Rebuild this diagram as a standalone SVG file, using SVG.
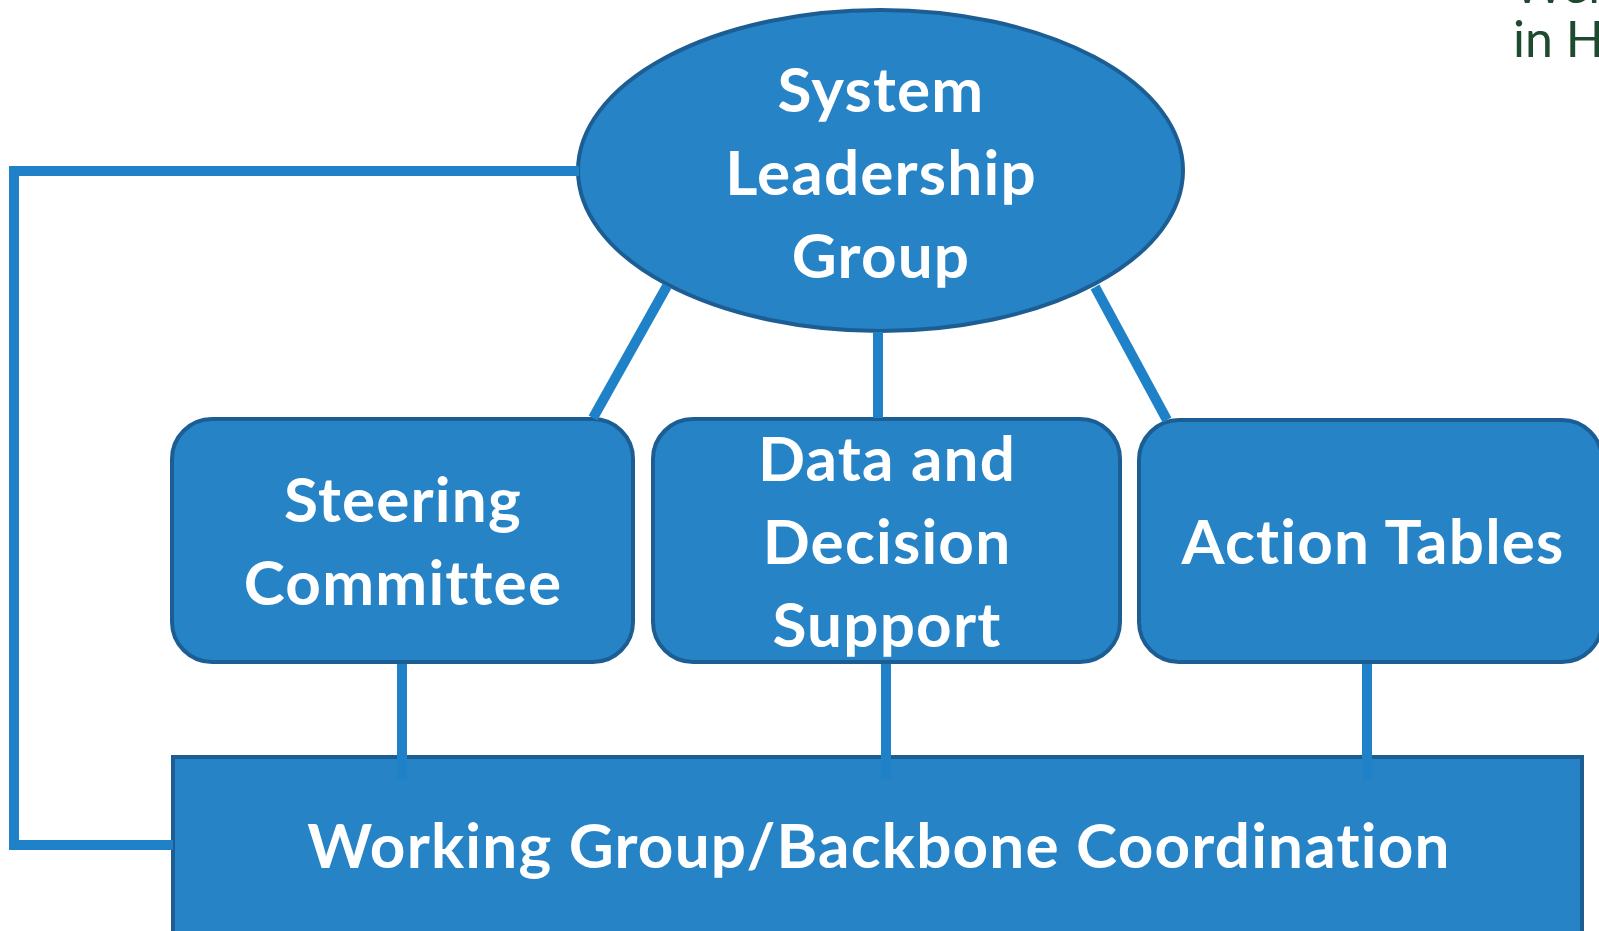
<svg xmlns="http://www.w3.org/2000/svg" width="1599" height="931" viewBox="0 0 1599 931">
  <style>
    .node { fill: #2683C6; stroke: #1C5E94; stroke-width: 4; }
    .lbl { font-family: Lato, "Open Sans", "Liberation Sans", sans-serif; font-weight: 700; font-size: 62px; letter-spacing: 1.2px; font-variant-ligatures: none; fill: #ffffff; text-anchor: middle; }
    .conn { fill: none; stroke: #1F82C8; stroke-width: 10; stroke-linejoin: miter; stroke-linecap: butt; }
    .corner { font-family: Lato, "Liberation Sans", sans-serif; font-size: 50px; fill: #1E4A30; }
  </style>
  <rect width="1599" height="931" fill="#ffffff"/>
  <g id="corner-text">
    <text class="corner" x="1513" y="3">Wel</text>
    <text class="corner" x="1513" y="57">in Ha</text>
  </g>
  <g id="system-leadership">
    <ellipse class="node" cx="880.5" cy="170.5" rx="302.5" ry="160.5"/>
    <text class="lbl" x="881" y="112">System</text>
    <text class="lbl" x="881" y="195">Leadership</text>
    <text class="lbl" x="881" y="278">Group</text>
  </g>
  <g id="steering">
    <rect class="node" x="172" y="419" width="461" height="243" rx="40" ry="40"/>
    <text class="lbl" x="403" y="522">Steering</text>
    <text class="lbl" x="403" y="605">Committee</text>
  </g>
  <g id="data-decision">
    <rect class="node" x="653" y="419" width="467" height="243" rx="40" ry="40"/>
    <text class="lbl" x="887" y="481">Data and</text>
    <text class="lbl" x="887" y="564">Decision</text>
    <text class="lbl" x="887" y="647">Support</text>
  </g>
  <g id="action-tables">
    <rect class="node" x="1139" y="420" width="463" height="242" rx="40" ry="40"/>
    <text class="lbl" x="1373" y="564">Action Tables</text>
  </g>
  <g id="working-group">
    <rect class="node" x="173" y="757" width="1409" height="200"/>
    <text class="lbl" x="879" y="868">Working Group/Backbone Coordination</text>
  </g>
  <g id="connectors">
    <polyline class="conn" points="579,171 14,171 14,845 173,845"/>
    <line class="conn" x1="667" y1="286" x2="593" y2="418"/>
    <line class="conn" x1="878" y1="332" x2="878" y2="418"/>
    <line class="conn" x1="1095" y1="287" x2="1167" y2="420"/>
    <line class="conn" x1="402" y1="664" x2="402" y2="780"/>
    <line class="conn" x1="886" y1="664" x2="886" y2="780"/>
    <line class="conn" x1="1367" y1="664" x2="1367" y2="780"/>
  </g>
</svg>
